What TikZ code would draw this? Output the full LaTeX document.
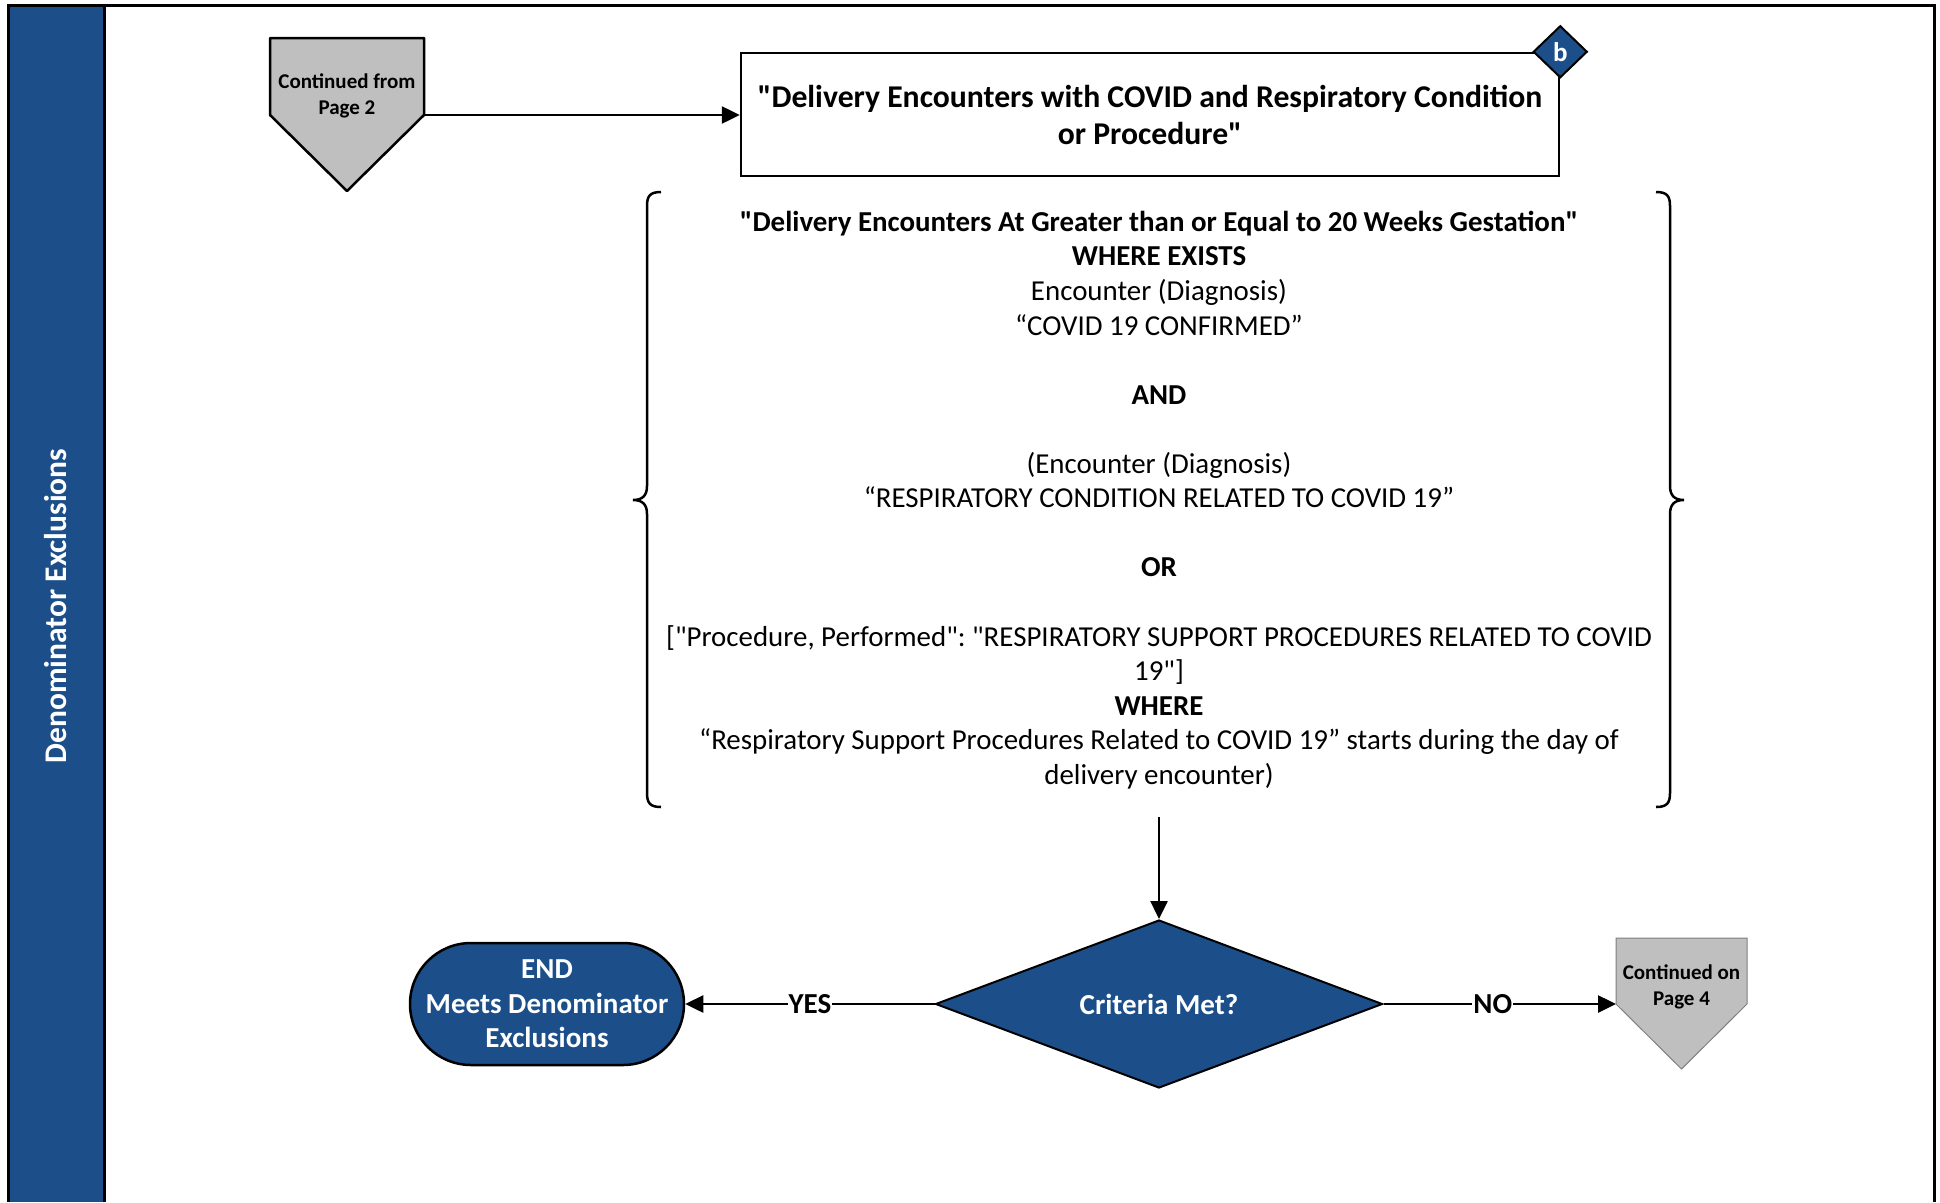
\documentclass[tikz,border=0pt]{standalone}
\usepackage{fontspec}
\setmainfont{Carlito}[Ligatures=TeXOff]
\usetikzlibrary{arrows.meta,shapes.geometric}
\definecolor{laneblue}{RGB}{28,79,138}
\definecolor{pagegray}{RGB}{191,191,191}
\frenchspacing
\begin{document}
\begin{tikzpicture}[x=1pt,y=-1pt,
    flow/.style={line width=2.5pt,-{Triangle[length=18pt,width=17pt]}},
    process/.style={draw,line width=2.5pt,minimum width=818pt,minimum height=123pt,
      align=center,font=\fontsize{31.7}{37}\selectfont\bfseries},
    decision/.style={diamond,draw,line width=2pt,fill=laneblue,text=white,inner sep=0pt,
      shape aspect=2.7,minimum width=447pt,minimum height=168pt,
      font=\fontsize{29}{34}\selectfont\bfseries},
    terminal/.style={draw,line width=2.5pt,fill=laneblue,text=white,rounded corners=61pt,
      minimum width=274pt,minimum height=122pt,align=center,
      font=\fontsize{29}{34.6}\selectfont\bfseries},
    pagetext/.style={align=center,font=\fontsize{21}{25.5}\selectfont\bfseries},
    lbl/.style={fill=white,inner sep=1pt,font=\fontsize{29}{32}\selectfont\bfseries}]
  \useasboundingbox (0,0) rectangle (1940,1202);
  % swim lane
  \fill[laneblue] (8,5) rectangle (104,1202);
  \draw[line width=3pt] (8,1202) -- (8,5) -- (1934,5) -- (1934,1202);
  \draw[line width=3pt] (104,5) -- (104,1202);
  \node[rotate=90,text=white,font=\fontsize{31.5}{36}\selectfont\bfseries] (lane) at (56,606)
    {Denominator Exclusions};

  % off-page connector in
  \draw[line width=2.5pt,fill=pagegray,line join=round]
    (270,38) -- (424,38) -- (424,115) -- (347,191) -- (270,115) -- cycle;
  \node[pagetext] (cfrom) at (347,96) {Continued from\\Page 2};
  \coordinate (cfromout) at (424,115);

  \node[process] (title) at (1150,114.5)
    {"Delivery Encounters with COVID and Respiratory Condition\\or Procedure"};
  \node[diamond,draw,line width=2pt,fill=laneblue,text=white,inner sep=0pt,
    minimum width=54pt,minimum height=52pt,font=\fontsize{27}{30}\selectfont\bfseries]
    (refb) at (title.north east) {b};
  \draw[flow] (cfromout) -- (cfromout -| title.west);

  % criteria
  \draw[line width=2.5pt] (661,192) .. controls (650,192) and (647,196) .. (647,206)
    -- (647,486) .. controls (647,495) and (643,500) .. (633,500)
    .. controls (643,500) and (647,505) .. (647,514)
    -- (647,793) .. controls (647,803) and (650,807) .. (661,807);
  \draw[line width=2.5pt] (1656,192) .. controls (1667,192) and (1670,196) .. (1670,206)
    -- (1670,486) .. controls (1670,495) and (1674,500) .. (1684,500)
    .. controls (1674,500) and (1670,505) .. (1670,514)
    -- (1670,793) .. controls (1670,803) and (1667,807) .. (1656,807);
  \node[align=center,font=\fontsize{28.9}{34.56}\selectfont] (crit) at (1159,500)
    {\textbf{"Delivery Encounters At Greater than or Equal to 20 Weeks Gestation"}\\
     \textbf{WHERE EXISTS}\\
     Encounter (Diagnosis)\\
     “COVID 19 CONFIRMED”\\[34.56pt]
     \textbf{AND}\\[34.56pt]
     (Encounter (Diagnosis)\\
     “RESPIRATORY CONDITION RELATED TO COVID 19”\\[34.56pt]
     \textbf{OR}\\[34.56pt]
     ["Procedure, Performed": "RESPIRATORY SUPPORT PROCEDURES RELATED TO COVID\\
     19"]\\
     \textbf{WHERE}\\
     “Respiratory Support Procedures Related to COVID 19” starts during the day of\\
     delivery encounter)};
  \coordinate (critout) at (1159,817);

  \node[decision] (dec) at (1159,1004) {Criteria Met?};
  \draw[flow] (critout) -- (dec.north);

  \node[terminal] (end) at (547,1004) {END\\Meets Denominator\\Exclusions};
  \draw[flow] (dec.west) -- node[lbl,pos=0.5] {YES} (end.east);

  % off-page connector out
  \draw[line width=1pt,draw=gray,fill=pagegray]
    (1616,938) -- (1747,938) -- (1747,1004) -- (1681.5,1069) -- (1616,1004) -- cycle;
  \node[pagetext] (conton) at (1681.5,987) {Continued on\\Page 4};
  \coordinate (contonin) at (1616,1004);
  \draw[flow] (dec.east) -- node[lbl,pos=0.47] {NO} (contonin);
\end{tikzpicture}
\end{document}
